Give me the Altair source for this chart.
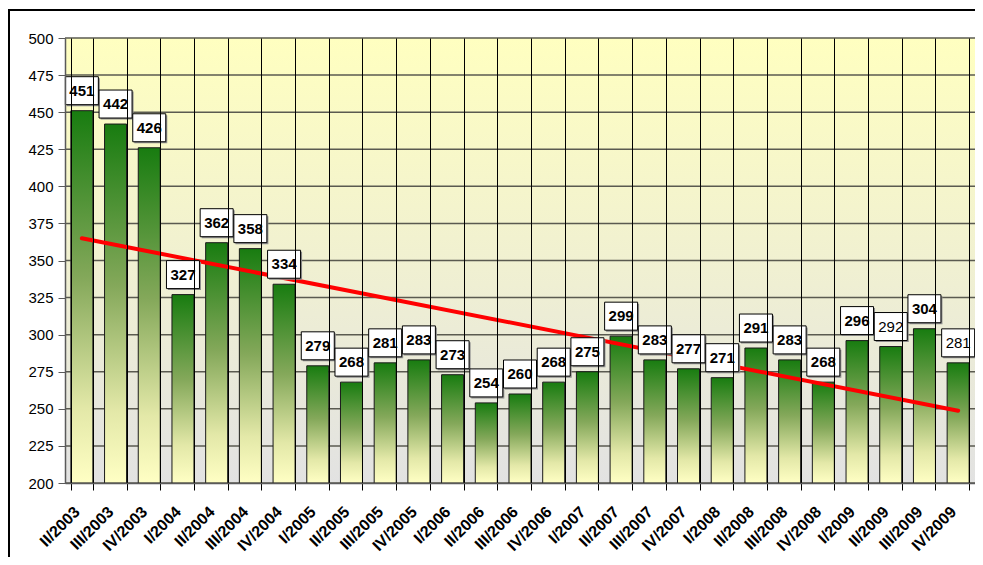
import altair as alt
import pandas as pd

quarters = ["II/2003", "III/2003", "IV/2003",
            "I/2004", "II/2004", "III/2004", "IV/2004",
            "I/2005", "II/2005", "III/2005", "IV/2005",
            "I/2006", "II/2006", "III/2006", "IV/2006",
            "I/2007", "II/2007", "III/2007", "IV/2007",
            "I/2008", "II/2008", "III/2008", "IV/2008",
            "I/2009", "II/2009", "III/2009", "IV/2009"]
values = [451, 442, 426,
          327, 362, 358, 334,
          279, 268, 281, 283,
          273, 254, 260, 268,
          275, 299, 283, 277,
          271, 291, 283, 268,
          296, 292, 304, 281]
y_ticks = [200, 225, 250, 275, 300, 325, 350, 375, 400, 425, 450, 475, 500]
normal_weight_labels = ["II/2009", "IV/2009"]

df = pd.DataFrame({"q": quarters, "v": values, "i": list(range(len(quarters)))})
grid_df = pd.DataFrame({"v": y_ticks})

FONT = "Liberation Sans"
W, H = 910, 445

bar_gradient = {
    "gradient": "linear", "x1": 0, "y1": 0, "x2": 0, "y2": 1,
    "stops": [
        {"offset": 0, "color": "#187c10"},
        {"offset": 0.45, "color": "#84a85a"},
        {"offset": 0.8, "color": "#e3e8a8"},
        {"offset": 1, "color": "#ffffc4"},
    ],
}
bg_gradient = {
    "gradient": "linear", "x1": 0, "y1": 0, "x2": 0, "y2": 1,
    "stops": [
        {"offset": 0, "color": "#ffffc0"},
        {"offset": 1, "color": "#e2e2e2"},
    ],
}

band_scale = alt.Scale(paddingInner=0.347, paddingOuter=0.1735)

x_band = alt.X(
    "q:N", sort=quarters, scale=band_scale,
    axis=alt.Axis(
        title=None, tickBand="extent", grid=True, gridColor="#000000", gridWidth=1,
        tickColor="#000000", tickSize=7, domainColor="#5a5a5a", domainWidth=1.5,
        labelAngle=-45, labelAlign="right", labelBaseline="middle",
        labelPadding=19, labelOffset=-5, labelFont=FONT, labelFontSize=16,
        labelFontWeight="bold", labelColor="#000000", zindex=1,
    ),
)
x_band_noaxis = alt.X("q:N", sort=quarters, scale=band_scale, axis=None)

y_lin = alt.Y(
    "v:Q",
    scale=alt.Scale(domain=[200, 500], nice=False, zero=False),
    axis=alt.Axis(
        title=None, values=y_ticks, grid=False,
        tickColor="#5a5a5a", tickSize=7, domainColor="#5a5a5a", domainWidth=1.5,
        labelFont=FONT, labelFontSize=15, labelColor="#000000", labelPadding=5,
        zindex=1,
    ),
)

background = alt.Chart(alt.Data(values=[{}])).mark_rect(color=bg_gradient).encode(
    x=alt.value(0), x2=alt.value(W), y=alt.value(0), y2=alt.value(H)
)

hgrid = alt.Chart(grid_df).mark_rule(color="#5a5a50", strokeWidth=1.5).encode(y=y_lin)

base = alt.Chart(df)

bars = base.mark_bar(color=bar_gradient, stroke="#1a1a1a", strokeWidth=1).encode(
    x=x_band, y=y_lin, y2=alt.datum(200)
)

trend = base.transform_regression("i", "v").mark_line(
    color="#ff0000", strokeWidth=4, strokeCap="round"
).encode(
    x=alt.X("i:Q", scale=alt.Scale(domain=[-0.5, 26.5], nice=False, zero=False), axis=None),
    y=y_lin,
)

box_shape = "M-1,-0.848L1,-0.848L1,0.848L-1,0.848Z"

shadow = base.mark_point(
    shape=box_shape, size=1089, filled=True, fill="#8c8c8c", opacity=1,
    strokeWidth=0, xOffset=1.5, yOffset=-18.5,
).encode(x=x_band_noaxis, y=y_lin)

boxes = base.mark_point(
    shape=box_shape, size=1089, filled=True, fill="#ffffff", stroke="#000000",
    strokeWidth=1, opacity=1, yOffset=-20,
).encode(x=x_band_noaxis, y=y_lin)

normal_test = "indexof(" + str(normal_weight_labels) + ", datum.q) >= 0"

labels_bold = base.transform_filter("!(" + normal_test + ")").mark_text(
    font=FONT, fontSize=15, fontWeight="bold", baseline="middle", align="center",
    dy=-20, color="#000000"
).encode(x=x_band_noaxis, y=y_lin, text="v:Q")

labels_normal = base.transform_filter(normal_test).mark_text(
    font=FONT, fontSize=15, fontWeight="normal", baseline="middle", align="center",
    dy=-20, color="#000000"
).encode(x=x_band_noaxis, y=y_lin, text="v:Q")

label_group = alt.layer(shadow, boxes, labels_bold, labels_normal)

frame = alt.Chart(alt.Data(values=[{}])).mark_rect(
    fill="transparent", stroke="#000000", strokeWidth=2
).encode(
    x=alt.value(-56), x2=alt.value(1200), y=alt.value(-28), y2=alt.value(800)
)

chart = alt.layer(background, hgrid, bars, trend, label_group, frame).resolve_scale(
    x="independent"
).properties(
    width=W, height=H,
    autosize=alt.AutoSizeParams(type="none"),
    padding={"left": 57, "top": 30, "right": 0, "bottom": 74},
).configure_view(
    stroke=None
).configure(background="#ffffff")

chart.save("out.html", embed_options={"renderer": "svg", "actions": False})
